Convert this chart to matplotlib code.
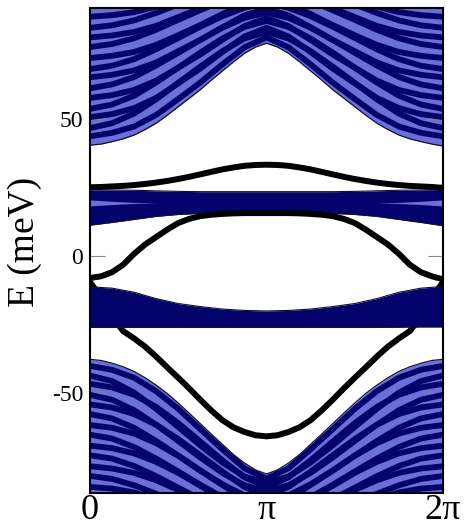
import numpy as np
import matplotlib
matplotlib.use('Agg')
import matplotlib.pyplot as plt

plt.rcParams['font.family'] = ['Liberation Serif', 'DejaVu Serif']

# ---------------- data (meV), sampled along k in [0, 2pi] ----------------
k17 = np.linspace(0, 2 * np.pi, 17)
k33 = np.linspace(0, 2 * np.pi, 33)

# bulk band edges (33 samples)
upper_bulk_edge = [40.3, 40.7, 41.6, 42.6, 44.0, 46.0, 48.3, 51.2, 54.3, 57.4, 60.5, 64.0, 67.3, 70.6, 73.7, 76.0, 77.4,
                   76.0, 73.7, 70.6, 67.3, 64.0, 60.5, 57.4, 54.3, 51.2, 48.3, 46.0, 44.0, 42.6, 41.6, 40.7, 40.0]
lower_bulk_edge = [-37.6, -38.0, -39.0, -40.3, -42.0, -44.3, -47.0, -50.0, -53.5, -57.2, -61.0, -64.8, -68.5, -72.2, -75.3, -77.8, -79.3,
                   -77.8, -75.3, -72.2, -68.5, -64.8, -61.0, -57.2, -53.5, -50.0, -47.0, -44.3, -42.0, -40.3, -39.0, -38.0, -37.6]

# edge states (33 samples)
edge_A = [25.0, 25.1, 25.3, 25.5, 25.8, 26.2, 26.7, 27.3, 28.0, 28.8, 29.7, 30.6, 31.5, 32.2, 32.8, 33.1, 33.2,
          33.1, 32.8, 32.2, 31.5, 30.6, 29.7, 28.8, 28.0, 27.3, 26.7, 26.2, 25.8, 25.5, 25.3, 25.1, 24.8]
edge_B = [-8.0, -7.4, -5.9, -3.2, 0.8, 4.2, 6.9, 9.6, 12.0, 13.5, 14.5, 15.0, 15.3, 15.5, 15.6, 15.6, 15.6,
          15.6, 15.6, 15.5, 15.3, 15.0, 14.5, 13.5, 12.0, 9.6, 6.9, 4.2, 0.8, -3.2, -5.9, -7.4, -8.5]
edge_C = [-9.5, -15.0, -22.0, -27.3, -30.0, -33.0, -36.6, -40.5, -44.3, -48.2, -52.3, -56.2, -59.7, -62.3, -64.0, -65.2, -65.6,
          -65.2, -64.0, -62.3, -59.7, -56.2, -52.3, -48.2, -44.3, -40.5, -36.6, -33.0, -30.0, -27.3, -22.0, -15.0, -9.5]

# middle (flat) bands (17 samples)
upper_mid_top = [24.0, 24.0, 23.9, 23.7, 23.5, 23.4, 23.4, 23.4, 23.4, 23.4, 23.4, 23.4, 23.5, 23.7, 23.9, 24.0, 24.2]
upper_mid_bot = [11.2, 12.2, 13.3, 14.4, 15.1, 15.5, 15.6, 15.6, 15.6, 15.6, 15.6, 15.5, 15.1, 14.4, 13.3, 12.2, 11.0]
upper_mid_streak_lo = [18.2, 18.7, 19.1, 19.3, 19.3, 19.3, 19.3, 19.3, 19.3, 19.3, 19.3, 19.3, 19.3, 19.3, 19.1, 18.7, 18.2]
upper_mid_streak_hi = [20.4, 19.9, 19.5, 19.3, 19.3, 19.3, 19.3, 19.3, 19.3, 19.3, 19.3, 19.3, 19.3, 19.3, 19.5, 19.9, 20.4]
lower_mid_top = [-11.2, -11.7, -13.2, -15.5, -17.3, -18.4, -19.3, -19.8, -20.0, -19.8, -19.3, -18.4, -17.3, -15.5, -13.2, -11.7, -11.1]
lower_mid_bot = [-26.0, -26.0, -26.0, -26.0, -26.0, -26.0, -26.0, -26.0, -26.0, -26.0, -26.0, -26.0, -26.0, -26.0, -25.9, -25.8, -25.8]

# bulk sub-bands (17 samples)
upper_sub_01 = [43.5, 44.8, 47.1, 51.3, 57.1, 63.1, 69.7, 75.9, 79.5, 75.9, 69.7, 63.1, 57.1, 51.3, 47.1, 44.8, 43.5]
upper_sub_02 = [46.5, 48.3, 51.8, 57.0, 63.0, 68.9, 74.5, 79.1, 81.5, 79.1, 74.5, 68.9, 63.0, 57.0, 51.8, 48.3, 46.5]
upper_sub_03 = [50.5, 51.6, 53.8, 57.5, 62.8, 68.2, 74.2, 79.8, 83.0, 79.8, 74.2, 68.2, 62.8, 57.5, 53.8, 51.6, 50.5]
upper_sub_04 = [53.5, 55.1, 58.3, 63.1, 68.5, 74.0, 79.1, 83.3, 85.5, 83.3, 79.1, 74.0, 68.5, 63.1, 58.3, 55.1, 53.5]
upper_sub_05 = [57.5, 58.5, 60.4, 63.8, 68.5, 73.3, 78.6, 83.6, 86.5, 83.6, 78.6, 73.3, 68.5, 63.8, 60.4, 58.5, 57.5]
upper_sub_06 = [61.0, 62.4, 65.1, 69.3, 73.9, 78.6, 83.0, 86.6, 88.5, 86.6, 83.0, 78.6, 73.9, 69.3, 65.1, 62.4, 61.0]
upper_sub_07 = [65.0, 65.9, 67.5, 70.4, 74.5, 78.6, 83.2, 87.5, 90.0, 87.5, 83.2, 78.6, 74.5, 70.4, 67.5, 65.9, 65.0]
upper_sub_08 = [68.0, 69.2, 71.6, 75.2, 79.3, 83.4, 87.2, 90.3, 92.0, 90.3, 87.2, 83.4, 79.3, 75.2, 71.6, 69.2, 68.0]
upper_sub_09 = [72.0, 72.8, 74.2, 76.8, 80.3, 84.0, 88.0, 91.8, 94.0, 91.8, 88.0, 84.0, 80.3, 76.8, 74.2, 72.8, 72.0]
upper_sub_10 = [76.0, 77.1, 79.2, 82.3, 85.9, 89.4, 92.8, 95.5, 97.0, 95.5, 92.8, 89.4, 85.9, 82.3, 79.2, 77.1, 76.0]
upper_sub_11 = [79.5, 80.2, 81.5, 83.7, 86.9, 90.1, 93.7, 97.1, 99.0, 97.1, 93.7, 90.1, 86.9, 83.7, 81.5, 80.2, 79.5]
upper_sub_12 = [83.0, 83.9, 85.7, 88.4, 91.5, 94.5, 97.4, 99.7, 101.0, 99.7, 97.4, 94.5, 91.5, 88.4, 85.7, 83.9, 83.0]
upper_sub_13 = [87.0, 87.6, 88.7, 90.7, 93.4, 96.3, 99.4, 102.3, 104.0, 102.3, 99.4, 96.3, 93.4, 90.7, 88.7, 87.6, 87.0]

lower_sub_01 = [-40.0, -41.4, -44.3, -49.2, -55.6, -63.0, -70.3, -77.2, -81.0, -77.2, -70.3, -63.0, -55.6, -49.2, -44.3, -41.4, -40.0]
lower_sub_02 = [-43.5, -45.5, -49.7, -55.6, -62.2, -68.9, -75.1, -80.2, -82.5, -80.2, -75.1, -68.9, -62.2, -55.6, -49.7, -45.5, -43.5]
lower_sub_03 = [-46.5, -47.8, -50.5, -54.9, -60.8, -67.5, -74.3, -80.5, -84.0, -80.5, -74.3, -67.5, -60.8, -54.9, -50.5, -47.8, -46.5]
lower_sub_04 = [-50.5, -52.3, -56.1, -61.4, -67.3, -73.3, -78.9, -83.4, -85.5, -83.4, -78.9, -73.3, -67.3, -61.4, -56.1, -52.3, -50.5]
lower_sub_05 = [-54.0, -55.1, -57.5, -61.4, -66.6, -72.5, -78.4, -84.0, -87.0, -84.0, -78.4, -72.5, -66.6, -61.4, -57.5, -55.1, -54.0]
lower_sub_06 = [-57.5, -59.1, -62.5, -67.3, -72.6, -78.0, -83.0, -87.1, -89.0, -87.1, -83.0, -78.0, -72.6, -67.3, -62.5, -59.1, -57.5]
lower_sub_07 = [-61.5, -62.5, -64.6, -68.1, -72.7, -78.1, -83.3, -88.3, -91.0, -88.3, -83.3, -78.1, -72.7, -68.1, -64.6, -62.5, -61.5]
lower_sub_08 = [-65.0, -66.4, -69.5, -73.7, -78.4, -83.2, -87.7, -91.3, -93.0, -91.3, -87.7, -83.2, -78.4, -73.7, -69.5, -66.4, -65.0]
lower_sub_09 = [-69.0, -69.9, -71.8, -74.9, -78.9, -83.6, -88.2, -92.6, -95.0, -92.6, -88.2, -83.6, -78.9, -74.9, -71.8, -69.9, -69.0]
lower_sub_10 = [-72.5, -73.7, -76.4, -80.1, -84.3, -88.4, -92.3, -95.5, -97.0, -95.5, -92.3, -88.4, -84.3, -80.1, -76.4, -73.7, -72.5]
lower_sub_11 = [-76.5, -77.3, -78.9, -81.6, -85.1, -89.1, -93.2, -96.9, -99.0, -96.9, -93.2, -89.1, -85.1, -81.6, -78.9, -77.3, -76.5]
lower_sub_12 = [-80.0, -81.1, -83.4, -86.5, -90.1, -93.7, -97.0, -99.7, -101.0, -99.7, -97.0, -93.7, -90.1, -86.5, -83.4, -81.1, -80.0]
lower_sub_13 = [-84.0, -84.6, -86.0, -88.3, -91.2, -94.7, -98.1, -101.3, -103.0, -101.3, -98.1, -94.7, -91.2, -88.3, -86.0, -84.6, -84.0]

upper_subbands = [upper_sub_01, upper_sub_02, upper_sub_03, upper_sub_04, upper_sub_05, upper_sub_06, upper_sub_07,
                  upper_sub_08, upper_sub_09, upper_sub_10, upper_sub_11, upper_sub_12, upper_sub_13]
lower_subbands = [lower_sub_01, lower_sub_02, lower_sub_03, lower_sub_04, lower_sub_05, lower_sub_06, lower_sub_07,
                  lower_sub_08, lower_sub_09, lower_sub_10, lower_sub_11, lower_sub_12, lower_sub_13]

x_ticks = [0, np.pi, 2 * np.pi]
x_ticklabels = ['0', 'π', '2π']
y_ticks = [-50, 0, 50]
y_ticklabels = ['-50', '0', '50']

LIGHT = '#6b6fd8'
NAVY = '#03036b'

# ---------------- figure ----------------
fig = plt.figure(figsize=(4.67, 5.23), dpi=100)
ax = fig.add_axes([90 / 467, 30.3 / 523, 353 / 467, 484.7 / 523])

# upper bulk continuum
up_fill = ax.fill_between(k33, upper_bulk_edge, 200, color=LIGHT, lw=0, zorder=1)
up_path = up_fill.get_paths()[0]
for band in upper_subbands:
    ln, = ax.plot(k17, band, color=NAVY, lw=4.2, zorder=2, solid_capstyle='butt')
    ln.set_clip_path(up_path, ax.transData)
ax.plot(k33, upper_bulk_edge, color='#111133', lw=0.9, zorder=3)

# lower bulk continuum
lo_fill = ax.fill_between(k33, -200, lower_bulk_edge, color=LIGHT, lw=0, zorder=1)
lo_path = lo_fill.get_paths()[0]
for band in lower_subbands:
    ln, = ax.plot(k17, band, color=NAVY, lw=4.2, zorder=2, solid_capstyle='butt')
    ln.set_clip_path(lo_path, ax.transData)
ax.plot(k33, lower_bulk_edge, color='#111133', lw=0.9, zorder=3)

# edge state C goes beneath the lower flat band
ax.plot(k33, edge_C, color='black', lw=4.3, zorder=4, solid_capstyle='round')

# middle flat bands
ax.fill_between(k17, upper_mid_bot, upper_mid_top, color=NAVY, lw=0, zorder=5)
ax.fill_between(k17, upper_mid_streak_lo, upper_mid_streak_hi, color=LIGHT, lw=0, zorder=5)
ax.fill_between(k17, lower_mid_bot, lower_mid_top, color=NAVY, lw=0, zorder=5)
for arr in (upper_mid_top, upper_mid_bot, lower_mid_top, lower_mid_bot):
    ax.plot(k17, arr, color='#111133', lw=0.8, zorder=5)

# edge states A and B
ax.plot(k33, edge_A, color='black', lw=4.3, zorder=6, solid_capstyle='round')
ax.plot(k33, edge_B, color='black', lw=4.3, zorder=6, solid_capstyle='round')

ax.set_xlim(0, 2 * np.pi)
ax.set_ylim(-86.1, 90.2)
ax.set_xticks(x_ticks)
ax.set_xticklabels(x_ticklabels, fontsize=26)
ax.set_yticks(y_ticks)
ax.set_yticklabels(y_ticklabels, fontsize=17)
ax.tick_params(axis='y', direction='in', length=10.5, width=0.8, color='#888888',
               left=True, right=True, pad=5)
ax.tick_params(axis='x', direction='in', length=10.5, width=0.8, color='#888888',
               bottom=True, top=False, pad=1)
for sp in ax.spines.values():
    sp.set_linewidth(1.5)
    sp.set_zorder(10)

fig.text(25 / 467, 1 - 242 / 523, 'E (meV)', rotation=90, ha='center', va='center', fontsize=27)

fig.savefig('out.png', dpi=100)
